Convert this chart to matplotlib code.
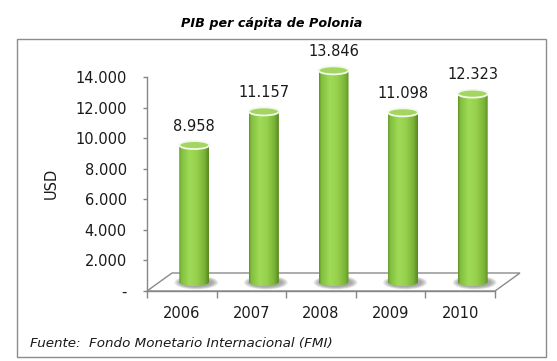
import matplotlib
matplotlib.use('Agg')
import matplotlib.pyplot as plt
import numpy as np
from matplotlib.patches import Ellipse, Polygon, PathPatch, Rectangle
from matplotlib.path import Path
from matplotlib.colors import LinearSegmentedColormap

# ---- data ----
years = ['2006', '2007', '2008', '2009', '2010']
values = [8958, 11157, 13846, 11098, 12323]
value_labels = ['8.958', '11.157', '13.846', '11.098', '12.323']
yticks = [0, 2000, 4000, 6000, 8000, 10000, 12000, 14000]
ytick_labels = ['-', '2.000', '4.000', '6.000', '8.000', '10.000', '12.000', '14.000']
title = 'PIB per cápita de Polonia'
ylabel = 'USD'
source = 'Fuente:  Fondo Monetario Internacional (FMI)'

W, H = 557, 361
fig = plt.figure(figsize=(W / 100, H / 100), dpi=100)
fig.patch.set_facecolor('white')

# outer frame
fig.add_artist(Rectangle((16.5 / W, 1 - 357 / H), (546 - 16.5) / W, (357 - 39) / H,
                         transform=fig.transFigure, fill=False,
                         edgecolor='#8c8c8c', lw=1.0, zorder=0))

ax = fig.add_axes([147 / W, (H - 291) / H, 348 / W, 214 / H])
ax.patch.set_alpha(0)
n = len(years)
xmin, xmax = -0.5, n - 0.5
ymax = 14000

# pixel -> data conversion (layout constants)
px_x = (xmax - xmin) / 348.0
px_y = ymax / 214.0
depth_dx = 25 * px_x
depth_dy = 18 * px_y
bar_w = 30 * px_x
ell_h = 8 * px_y

# floor
floor = Polygon([(xmin, 0), (xmax, 0), (xmax + depth_dx, depth_dy), (xmin + depth_dx, depth_dy)],
                closed=True, facecolor='white', edgecolor='#8a8a8a', lw=1.0,
                zorder=0.5, clip_on=False)
ax.add_patch(floor)

cmap = LinearSegmentedColormap.from_list('cyl', [
    (0.0, '#5e8e24'), (0.07, '#80be3d'), (0.35, '#a0db58'),
    (0.6, '#96d04c'), (0.85, '#7ab437'), (1.0, '#58871f')])
grad = np.linspace(0, 1, 256).reshape(1, -1)

for i, (v, lbl) in enumerate(zip(values, value_labels)):
    cx = i + depth_dx / 2
    base = depth_dy / 2
    top = base + v
    # shadow
    for k in range(6):
        ax.add_patch(Ellipse((cx + 2 * px_x, base - 0.5 * px_y),
                             bar_w + (14 - 2.2 * k) * px_x, ell_h + (6 - k) * px_y,
                             facecolor='#5a5a5a', edgecolor='none', alpha=0.11,
                             zorder=1, clip_on=False))
    # body path
    t = np.linspace(np.pi, 2 * np.pi, 40)
    verts = [(cx - bar_w / 2, top)]
    verts += list(zip(cx + bar_w / 2 * np.cos(t), base + ell_h / 2 * np.sin(t)))
    verts += [(cx + bar_w / 2, top), (cx - bar_w / 2, top)]
    body = PathPatch(Path(verts, closed=True), facecolor='none', edgecolor='none',
                     transform=ax.transData, zorder=2, clip_on=False)
    ax.add_patch(body)
    im = ax.imshow(grad, cmap=cmap, extent=(cx - bar_w / 2, cx + bar_w / 2, base - ell_h, top),
                   aspect='auto', interpolation='bilinear', zorder=2)
    im.set_clip_path(body)
    im.set_clip_box(fig.bbox)
    # top ellipse
    ax.add_patch(Ellipse((cx, top), bar_w, ell_h, facecolor='#a2d660',
                         edgecolor='#f3f8ec', lw=1.3, zorder=3, clip_on=False))
    ax.annotate(lbl, (cx, top), xytext=(0, 13.5), textcoords='offset points',
                ha='center', va='center', fontsize=10.5, color='#1a1a1a',
                annotation_clip=False)

ax.set_xlim(xmin, xmax)
ax.set_ylim(0, ymax)

for s in ['top', 'right']:
    ax.spines[s].set_visible(False)
for s in ['left', 'bottom']:
    ax.spines[s].set_color('#868686')
    ax.spines[s].set_linewidth(1.0)

ax.set_yticks(yticks, ytick_labels)
ax.tick_params(axis='y', length=3, width=1, color='#868686', pad=11.5,
               labelsize=10.5, labelcolor='#1a1a1a')
ax.set_xticks(range(n), years)
ax.set_xticks(np.arange(xmin, xmax + 0.01, 1.0), minor=True)
ax.tick_params(axis='x', which='major', length=0, pad=11, labelsize=10.5, labelcolor='#1a1a1a')
ax.tick_params(axis='x', which='minor', length=5, width=1, color='#868686')

fig.text(51.7 / W, 1 - 183 / H, ylabel, rotation=90, ha='center', va='center',
         fontsize=10.5, color='#1a1a1a')
fig.text(272 / W, 1 - 24 / H, title, ha='center', va='center', fontsize=9.2,
         fontweight='bold', fontstyle='italic', color='black')
fig.text(30 / W, 1 - 343 / H, source, ha='left', va='center', fontsize=9.7,
         fontstyle='italic', color='#1a1a1a')

fig.savefig('out.png', dpi=100)
